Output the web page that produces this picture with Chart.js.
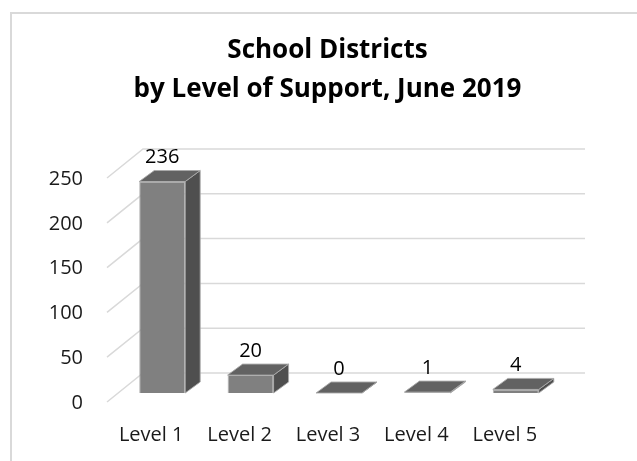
<!DOCTYPE html>
<html>
<head>
<meta charset="utf-8">
<script src="https://cdn.jsdelivr.net/npm/chart.js@4.4.1/dist/chart.umd.min.js"></script>
<style>
    body { margin: 0; background: #ffffff; overflow: hidden; }
    #wrap { position: absolute; left: 0; top: 0; width: 637px; height: 461px; }
    #frame { position: absolute; left: 10px; top: 12px; width: 700px; height: 600px; border: 2px solid #d9d9d9; }
</style>
</head>
<body>
<div id="frame"></div>
<div id="wrap"><canvas id="myChart"></canvas></div>
<script>
var levels = ['Level 1', 'Level 2', 'Level 3', 'Level 4', 'Level 5']; // Kategorien
var districts = [236, 20, 0, 1, 4]; // Anzahl Schulbezirke
var yTicks = [0, 50, 100, 150, 200, 250];
var titleLines = ['School Districts', 'by Level of Support, June 2019'];

// 3D Versatz (Pixel)
var barDx = 15, barDy = -11;
var wallDx = 25, wallDy = -20, wallFrontDx = -11, wallFrontDy = 9;

var frontColor = '#808080';
var topColor = '#626262';
var sideColor = '#4f4f4f';
var edgeColor = 'rgba(170,170,170,0.9)';
var gridColor = '#d9d9d9';

Chart.defaults.font.family = "'Open Sans', sans-serif";
Chart.defaults.color = '#1a1a1a';

// Rückwand + Seitenwand Gitterlinien
var wallsPlugin = {
    id: 'walls',
    afterLayout: function (chart) {
        // Titel über der ganzen Box zentrieren (Box reicht rechts über das Bild hinaus)
        if (chart.titleBlock) {
            chart.titleBlock.left = 18;
            chart.titleBlock.right = chart.width;
        }
    },
    beforeDatasetsDraw: function (chart) {
        var ctx = chart.ctx;
        var area = chart.chartArea;
        var yScale = chart.scales.y;
        ctx.save();
        ctx.strokeStyle = gridColor;
        ctx.lineWidth = 1.5;
        yTicks.forEach(function (v) {
            var py = yScale.getPixelForValue(v);
            ctx.beginPath();
            ctx.moveTo(area.left + wallFrontDx, py + wallFrontDy);
            ctx.lineTo(area.left + wallDx, py + wallDy);
            ctx.lineTo(area.right + wallDx, py + wallDy);
            ctx.stroke();
        });
        ctx.restore();
    }
};

// Oberseite, Seitenfläche und Werte der Balken
var bars3dPlugin = {
    id: 'bars3d',
    afterDatasetsDraw: function (chart) {
        var ctx = chart.ctx;
        var meta = chart.getDatasetMeta(0);
        ctx.save();
        ctx.lineWidth = 1;
        ctx.strokeStyle = edgeColor;
        meta.data.forEach(function (bar, i) {
            var half = bar.width / 2;
            var left = bar.x - half, right = bar.x + half;
            var top = bar.y, base = bar.base;

            // Seitenfläche
            ctx.fillStyle = sideColor;
            ctx.beginPath();
            ctx.moveTo(right, top);
            ctx.lineTo(right + barDx, top + barDy);
            ctx.lineTo(right + barDx, base + barDy);
            ctx.lineTo(right, base);
            ctx.closePath();
            ctx.fill();
            ctx.stroke();

            // Oberseite
            ctx.fillStyle = topColor;
            ctx.beginPath();
            ctx.moveTo(left, top);
            ctx.lineTo(left + barDx, top + barDy);
            ctx.lineTo(right + barDx, top + barDy);
            ctx.lineTo(right, top);
            ctx.closePath();
            ctx.fill();
            ctx.stroke();

            // Wert
            ctx.fillStyle = '#000000';
            ctx.font = "20px 'Open Sans', sans-serif";
            ctx.textAlign = 'center';
            ctx.textBaseline = 'middle';
            ctx.fillText(String(districts[i]), bar.x, top - 24);
        });
        ctx.restore();
    }
};

var ctx = document.getElementById('myChart').getContext('2d');
var myChart = new Chart(ctx, {
    type: 'bar',
    data: {
        labels: levels,
        datasets: [{
            label: 'School Districts',
            data: districts,
            backgroundColor: frontColor,
            borderColor: edgeColor,
            borderWidth: 1,
            categoryPercentage: 1,
            barPercentage: 0.52
        }]
    },
    options: {
        responsive: true,
        maintainAspectRatio: false,
        animation: false,
        layout: {
            padding: { left: 18, right: 77, top: 0, bottom: 14 }
        },
        plugins: {
            legend: { display: false },
            tooltip: { enabled: false },
            title: {
                display: true,
                text: titleLines,
                color: '#000000',
                font: { size: 26, weight: 'bold', lineHeight: 1.5 },
                padding: { top: 31, bottom: 60 }
            }
        },
        scales: {
            x: {
                grid: { display: false, drawTicks: false },
                border: { display: false },
                afterFit: function (axis) {
                    axis.height = 54;
                },
                ticks: {
                    font: { size: 20 },
                    color: '#1a1a1a',
                    padding: 30,
                    labelOffset: -11,
                    maxRotation: 0
                }
            },
            y: {
                min: 0,
                max: 250,
                grid: { display: false, drawTicks: false },
                border: { display: false },
                afterBuildTicks: function (axis) {
                    axis.ticks = yTicks.map(function (v) { return { value: v }; });
                },
                afterFit: function (axis) {
                    axis.width = 100;
                },
                ticks: {
                    font: { size: 20 },
                    color: '#1a1a1a',
                    padding: 35,
                    labelOffset: 10
                }
            }
        }
    },
    plugins: [wallsPlugin, bars3dPlugin]
});
</script>
</body>
</html>
